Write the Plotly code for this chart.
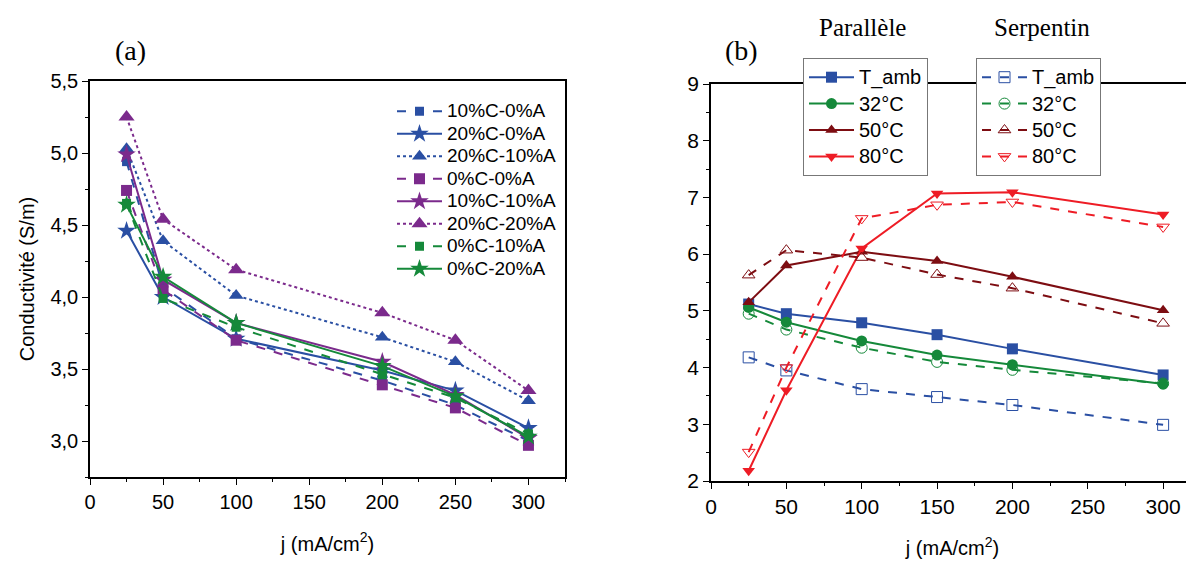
import plotly.graph_objects as go
from plotly.subplots import make_subplots

# (a) conductivity vs current density, several compositions
j_a = [25, 50, 100, 200, 250, 300]
c10_a0 = [4.94, 4.07, 3.71, 3.42, 3.25, 3.00]
c20_a0 = [4.46, 4.00, 3.71, 3.49, 3.35, 3.09]
c20_a10 = [5.03, 4.39, 4.01, 3.72, 3.55, 3.28]
c0_a0 = [4.74, 4.05, 3.70, 3.39, 3.23, 2.97]
c10_a10 = [4.99, 4.12, 3.82, 3.55, 3.32, 3.02]
c20_a20 = [5.25, 4.54, 4.19, 3.89, 3.70, 3.35]
c0_a10 = [4.65, 3.99, 3.79, 3.46, 3.30, 3.05]
c0_a20 = [4.64, 4.14, 3.82, 3.52, 3.31, 3.03]

# (b) parallel vs serpentine channels at several temperatures
j_b = [25, 50, 100, 150, 200, 300]
temp_labels = ["T_amb", "32°C", "50°C", "80°C"]
par_amb = [5.12, 4.95, 4.79, 4.58, 4.33, 3.87]
par_32 = [5.06, 4.80, 4.47, 4.22, 4.05, 3.71]
par_50 = [5.15, 5.80, 6.04, 5.88, 5.60, 5.01]
par_80 = [2.18, 3.60, 6.10, 7.07, 7.09, 6.70]
ser_amb = [4.18, 3.95, 3.62, 3.48, 3.34, 2.99]
ser_32 = [4.95, 4.67, 4.35, 4.10, 3.96, 3.72]
ser_50 = [5.63, 6.07, 5.94, 5.64, 5.40, 4.78]
ser_80 = [2.51, 4.00, 6.63, 6.87, 6.92, 6.48]

BLUE = "#2a4fa3"
PURPLE = "#7b2a8c"
GREEN = "#15893a"
DARKRED = "#7d0d12"
RED = "#ee1c25"
SANS = "Liberation Sans"
SERIF = "Liberation Serif"

# the page has an 8px body margin, so work in page pixels and shift
OFF = 8
W, H = 1194 - OFF, 563 - OFF


def px(x):
    return (x - OFF) / W


def py(y):
    return 1 - (y - OFF) / H


def big(txt, size):
    return '<span style="font-size:%dpx">%s</span>' % (size, txt)


fig = make_subplots(rows=1, cols=2)

left_series = [
    ("10%C-0%A", c10_a0, BLUE, "dash", "square", 9),
    ("20%C-0%A", c20_a0, BLUE, "solid", "star", 14),
    ("20%C-10%A", c20_a10, BLUE, "dot", "triangle-up", 13),
    ("0%C-0%A", c0_a0, PURPLE, "dash", "square", 11),
    ("10%C-10%A", c10_a10, PURPLE, "solid", "star", 14),
    ("20%C-20%A", c20_a20, PURPLE, "dot", "triangle-up", 14),
    ("0%C-10%A", c0_a10, GREEN, "dash", "square", 9),
    ("0%C-20%A", c0_a20, GREEN, "solid", "star", 14),
]
for name, vals, col, dash, sym, size in left_series:
    fig.add_trace(go.Scatter(
        x=j_a, y=vals, name=big(name, 19), mode="lines+markers",
        line=dict(color=col, width=2, dash=dash),
        marker=dict(symbol=sym, size=size, color=col),
        legend="legend"
    ), row=1, col=1)

par_vals = [par_amb, par_32, par_50, par_80]
ser_vals = [ser_amb, ser_32, ser_50, ser_80]
temp_colors = [BLUE, GREEN, DARKRED, RED]
par_symbols = ["square", "circle", "triangle-up", "triangle-down"]
ser_symbols = ["square-open", "circle-open", "triangle-up-open", "triangle-down-open"]

for lab, vals, col, sym in zip(temp_labels, par_vals, temp_colors, par_symbols):
    fig.add_trace(go.Scatter(
        x=j_b, y=vals, name=big(lab, 20), mode="lines+markers",
        line=dict(color=col, width=2),
        marker=dict(symbol=sym, size=11, color=col),
        legend="legend2"
    ), row=1, col=2)

for lab, vals, col, sym in zip(temp_labels, ser_vals, temp_colors, ser_symbols):
    fig.add_trace(go.Scatter(
        x=j_b, y=vals, name=big(lab, 20), mode="lines+markers",
        line=dict(color=col, width=2, dash="dash"),
        marker=dict(symbol=sym, size=11, color=col, line=dict(width=1)),
        legend="legend3"
    ), row=1, col=2)

axis_common = dict(showline=True, linecolor="black", linewidth=1.5, ticks="outside",
                   tickcolor="black", ticklen=6, showgrid=False, zeroline=False,
                   automargin=False)

fig.update_xaxes(axis_common, row=1, col=1, domain=[px(90), px(565)], range=[0, 325],
                 dtick=50, tick0=0, mirror=True,
                 minor=dict(ticks="outside", ticklen=3, dtick=25, tickcolor="black"),
                 tickfont=dict(family=SANS, size=20, color="black"),
                 title=dict(text="j (mA/cm<sup>2</sup>)", standoff=25,
                            font=dict(family=SANS, size=20, color="black")))
fig.update_yaxes(axis_common, row=1, col=1, domain=[py(477), py(81)], range=[2.75, 5.5],
                 dtick=0.5, tick0=3, tickformat=".1f", mirror=True,
                 minor=dict(ticks="outside", ticklen=3, dtick=0.25, tickcolor="black"),
                 tickfont=dict(family=SANS, size=20, color="black"),
                 title=dict(text="Conductivité (S/m)", standoff=10,
                            font=dict(family=SANS, size=20, color="black")))

fig.update_xaxes(axis_common, row=1, col=2, domain=[px(711), 1.0], range=[0, 320.5],
                 dtick=50, tick0=0, mirror=True,
                 minor=dict(ticks="outside", ticklen=3, dtick=25, tickcolor="black"),
                 tickfont=dict(family=SANS, size=21, color="black"),
                 title=dict(text="j (mA/cm<sup>2</sup>)", standoff=24,
                            font=dict(family=SANS, size=20, color="black")))
fig.update_yaxes(axis_common, row=1, col=2, domain=[py(481), py(84)], range=[2, 9],
                 dtick=1, tick0=2,
                 minor=dict(ticks="outside", ticklen=3, dtick=0.5, tickcolor="black"),
                 tickfont=dict(family=SANS, size=21, color="black"))

for txt, x, y, size in [("(a)", 130, 50, 28), ("(b)", 741, 50, 28),
                        ("Parallèle", 862, 28, 25), ("Serpentin", 1042, 28, 25)]:
    fig.add_annotation(text=txt, x=px(x), y=py(y), xref="paper", yref="paper",
                       xanchor="center", yanchor="middle", showarrow=False,
                       font=dict(family=SERIF, size=size, color="black"))

fig.update_layout(
    width=W, height=H,
    margin=dict(l=0, r=0, t=0, b=0),
    plot_bgcolor="white", paper_bgcolor="white",
    separators=", ",
    showlegend=True,
    legend=dict(x=px(392), y=py(95), xanchor="left", yanchor="top",
                bgcolor="rgba(0,0,0,0)", borderwidth=0, tracegroupgap=0, itemwidth=45,
                font=dict(family=SANS, size=15, color="black")),
    legend2=dict(x=px(803), y=py(58), xanchor="left", yanchor="top",
                 bgcolor="white", bordercolor="#777777", borderwidth=1, itemwidth=45,
                 font=dict(family=SANS, size=18, color="black")),
    legend3=dict(x=px(976), y=py(58), xanchor="left", yanchor="top",
                 bgcolor="white", bordercolor="#777777", borderwidth=1, itemwidth=45,
                 font=dict(family=SANS, size=18, color="black")),
)

fig.write_html("out.html")
